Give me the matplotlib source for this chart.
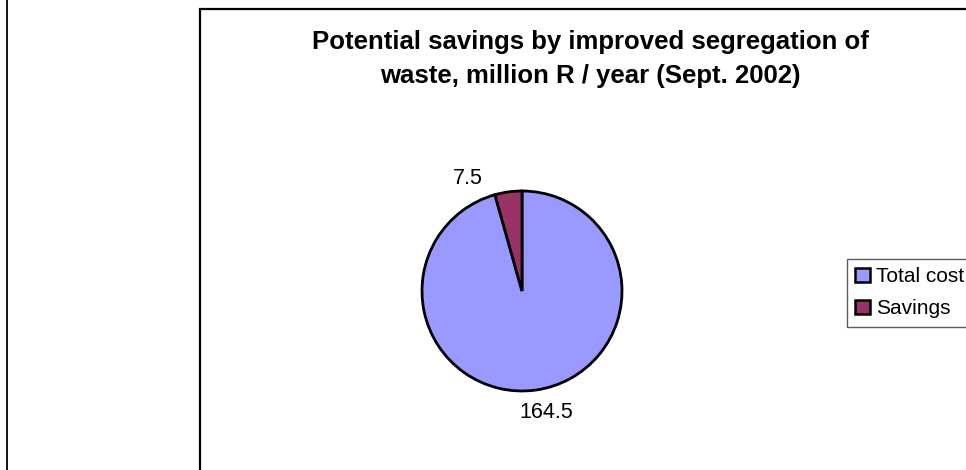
import matplotlib
matplotlib.use("Agg")
import matplotlib.pyplot as plt
from matplotlib.patches import Rectangle, Patch
from matplotlib.lines import Line2D
import numpy as np

plt.rcParams['font.family'] = ['Liberation Sans', 'DejaVu Sans']

categories = ["Total cost", "Savings"]
values = [164.5, 7.5]
colors = ["#9999FF", "#993366"]
title = "Potential savings by improved segregation of\nwaste, million R / year (Sept. 2002)"

W, H = 966, 470
fig = plt.figure(figsize=(W / 100, H / 100), dpi=100)
fig.patch.set_facecolor("white")

# outer left line and chart frame (behind the pie)
fig.add_artist(Line2D([6.5 / W, 6.5 / W], [0, 1], color="black", lw=1.3,
                      transform=fig.transFigure, zorder=-2))
fig.add_artist(Rectangle((199.5 / W, -0.1), 1.0, 1.1 - 9.5 / H, transform=fig.transFigure,
                         facecolor="white", edgecolor="black", lw=1.6, zorder=-1))

fig.text(590 / W, 1 - 59 / H, title, ha="center", va="center", fontsize=18.5,
         fontweight="bold", linespacing=1.5)

ax = fig.add_axes([422 / W, 79 / H, 200 / W, 200 / H])
ax.set_zorder(2)
wedges, texts = ax.pie(values, colors=colors, startangle=90, counterclock=False,
                       labels=[f"{v:g}" for v in values], labeldistance=1.24,
                       wedgeprops=dict(edgecolor="black", linewidth=2.0),
                       textprops=dict(fontsize=15.5))
ax.set_xlim(-1, 1)
ax.set_ylim(-1, 1)
ax.set_aspect("equal")
# adjust label positions like the original
texts[0].set_position((0.24, -1.22))
texts[0].set_ha("center"); texts[0].set_va("center")
texts[1].set_position((-0.54, 1.13))
texts[1].set_ha("center"); texts[1].set_va("center")

handles = [Patch(facecolor=c, edgecolor="black", lw=1.8) for c in colors]
leg = fig.legend(handles, categories, loc="upper left",
                 bbox_to_anchor=(847 / W, 1 - 259 / H), fontsize=15,
                 frameon=True, fancybox=False, shadow=False,
                 handlelength=0.7, handleheight=0.7, handletextpad=0.3,
                 labelspacing=0.62, borderpad=0.4, borderaxespad=0)
leg.get_frame().set_edgecolor("#333333")
leg.get_frame().set_linewidth(1.0)
leg.set_zorder(3)

fig.savefig("out.png", dpi=100, facecolor="white")
